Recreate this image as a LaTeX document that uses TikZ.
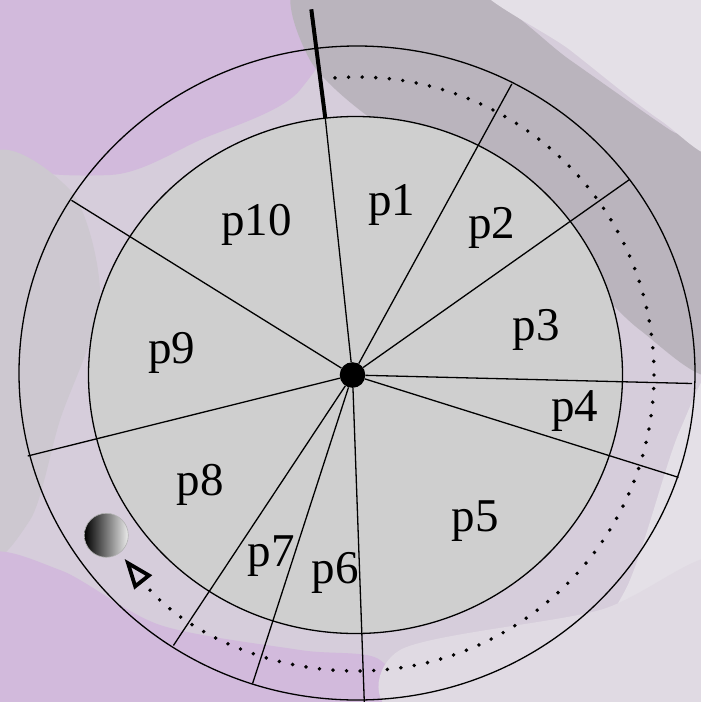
\documentclass[tikz,border=0pt]{standalone}
\usepackage{fontspec}
\setmainfont{Liberation Serif}
\usepackage{xcolor}
\usetikzlibrary{calc,arrows.meta}
\definecolor{bgbase}{RGB}{214,205,219}
\definecolor{bgpurple}{RGB}{210,186,220}
\definecolor{bggray}{RGB}{186,180,189}
\definecolor{bglight}{RGB}{228,224,231}
\definecolor{bgside}{RGB}{205,200,208}
\definecolor{disc}{RGB}{207,207,207}
\tikzset{
	sector/.style={font=\fontsize{47}{50}\selectfont, inner sep=0pt},
	spoke/.style={line width=1.3pt},
	rim/.style={line width=1.3pt},
	hub/.style={circle,fill=black,minimum size=25.6pt,inner sep=0pt},
	ball/.style={circle,draw=gray!60,line width=0.6pt,left color=black,right color=white!85!gray,minimum size=44pt,inner sep=0pt},
	track/.style={line width=3.9pt,line cap=round,dash pattern=on 0pt off 13.6pt}
}

\begin{document}
\begin{tikzpicture}[x=1pt,y=-1pt]
	\useasboundingbox (0,0) rectangle (701,702);
	% background photo, roughly
	\fill[bgbase] (0,0) rectangle (701,702);
	\fill[bgpurple] plot[smooth cycle] coordinates {(-20,-20) (330,-20) (300,90) (200,140) (110,175) (-20,150)};
	\fill[bggray] plot[smooth cycle] coordinates {(300,-20) (470,-10) (570,60) (670,130) (720,160) (720,370) (640,330) (560,250) (470,170) (380,125) (310,60)};
	\fill[bglight] plot[smooth cycle] coordinates {(480,-20) (720,-20) (720,150) (660,120) (570,50)};
	\fill[bglight] plot[smooth cycle] coordinates {(720,380) (720,720) (560,720) (630,580) (680,430)};
	\fill[bgside] plot[smooth cycle] coordinates {(-20,170) (70,190) (100,300) (60,420) (30,520) (-20,540)};
	\fill[bgpurple] plot[smooth cycle] coordinates {(-20,560) (60,570) (160,625) (300,650) (380,660) (390,720) (-20,720)};
	\fill[bglight!70!bgbase] plot[smooth cycle] coordinates {(400,650) (600,610) (720,560) (720,720) (410,720)};
	\begin{scope}
	\coordinate (o) at (357,373);
	\coordinate (i) at (355.5,375);
	\coordinate (d) at (357,374);
	\draw[rim] (o) ellipse [x radius=338, y radius=327];
	\filldraw[rim, fill=disc] (i) ellipse [x radius=267, y radius=258.5];
	% spoke ends on the outer rim
	\coordinate (t1) at (325.3,118.3);
	\coordinate (s1) at (311.3,9.3);
	\coordinate (s2) at (511.8,84);
	\coordinate (s3) at (629.4,179.6);
	\coordinate (s4) at (692,383.5);
	\coordinate (s5) at (678.6,477.4);
	\coordinate (s6) at (364.3,702);
	\coordinate (s7) at (252.6,683.5);
	\coordinate (s8) at (173.4,645.5);
	\coordinate (s9) at (27.7,456);
	\coordinate (s10) at (71.5,200.3);
	\node[hub] (c) at (352.5,375) {};
	\draw[spoke] (c) -- (t1);
	\draw[line width=4pt] (t1) -- (s1);
	\foreach \s in {s2,s3,s4,s5,s6,s7,s8,s9,s10}
		\draw[spoke] (c) -- (\s);
	%\draw (c) -- (s1);
	\end{scope}
	\begin{scope}[every node/.style=sector]
	\node[anchor=base] (p1) at (391.7,215) {p1};
	\node[anchor=base] (p2) at (491.7,238.3) {p2};
	\node[anchor=base] (p3) at (536.2,340) {p3};
	\node[anchor=base] (p4) at (574.5,421.7) {p4};
	\node[anchor=base] (p5) at (475.3,531.7) {p5};
	\node[anchor=base] (p6) at (335,583.3) {p6};
	\node[anchor=base] (p7) at (271,566.7) {p7};
	\node[anchor=base] (p8) at (200,495) {p8};
	\node[anchor=base] (p9) at (171.7,363.3) {p9};
	\node[anchor=base] (p10) at (256.7,235.7) {p10};
	\end{scope}
	% dotted track with open head
	\coordinate (a0) at ($(d)+(-94.25:297)$);
	\draw[track, -{Triangle[open,length=30pt,width=22pt,line width=3.8pt]}] (a0) arc[start angle=-94.25, end angle=141.5, radius=297];
	\node[ball] (b) at (106.3,535.3) {};
\end{tikzpicture}
\end{document}
